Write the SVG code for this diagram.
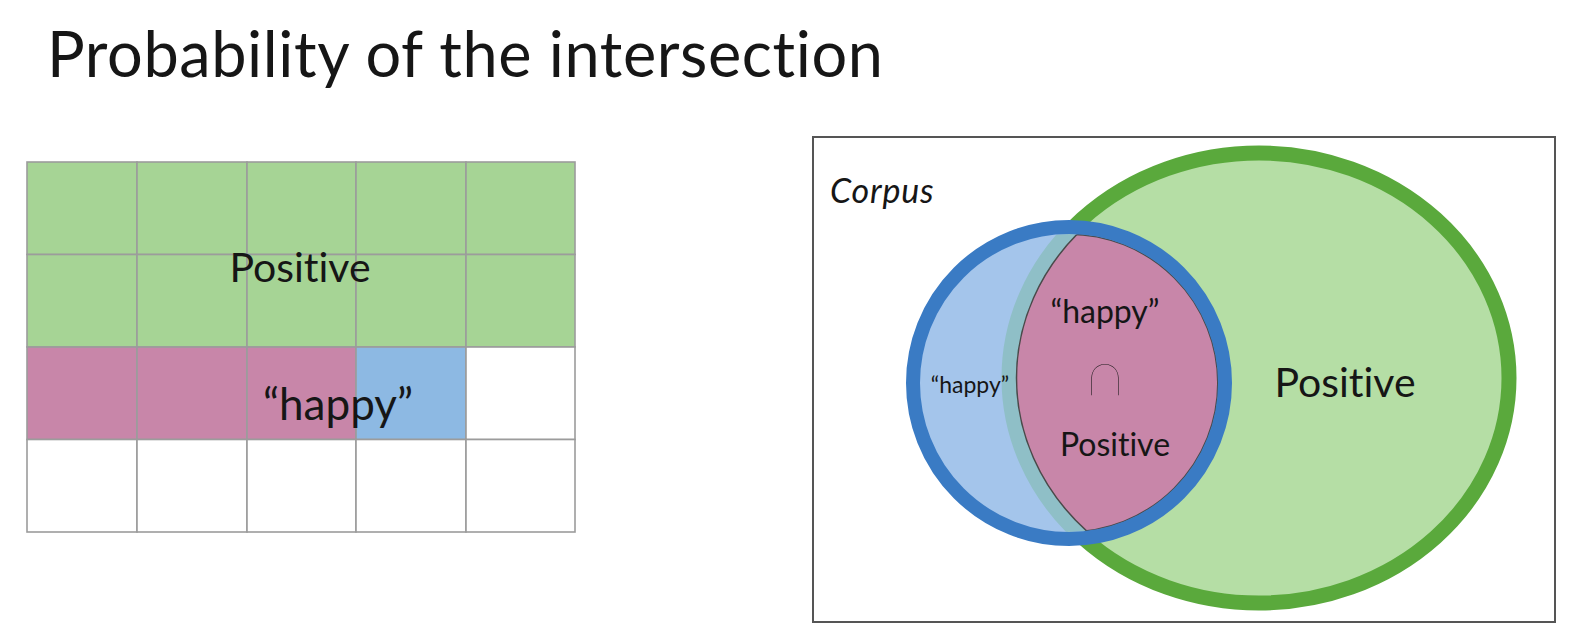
<svg xmlns="http://www.w3.org/2000/svg" width="1570" height="644" viewBox="0 0 1570 644">
  <style>
    text { font-family: Lato, "Liberation Sans", sans-serif; fill: #161616; font-variant-ligatures: none; }
    .cell { stroke: #9c9c9c; stroke-width: 1.6; }
    .pos { fill: #a6d495; }
    .hap { fill: #c886a9; }
    .only { fill: #8db9e3; }
    .empty { fill: #ffffff; }
  </style>
  <defs>
    <clipPath id="blueInner">
      <circle cx="1069" cy="383" r="149"/>
    </clipPath>
    <clipPath id="greenInner">
      <ellipse cx="1259" cy="378" rx="242.5" ry="217.5"/>
    </clipPath>
  </defs>

  <rect width="1570" height="644" fill="#ffffff"/>

  <text id="title" x="47" y="77" font-size="63" letter-spacing="0.6">Probability of the intersection</text>

  <!-- Grid of 20 cells: 10 positive, 3 positive with "happy", 1 "happy" only, 6 empty -->
  <g id="grid">
    <g id="row1">
      <rect class="cell pos" x="27" y="162" width="110" height="92.5"/>
      <rect class="cell pos" x="137" y="162" width="110" height="92.5"/>
      <rect class="cell pos" x="247" y="162" width="109" height="92.5"/>
      <rect class="cell pos" x="356" y="162" width="110" height="92.5"/>
      <rect class="cell pos" x="466" y="162" width="109" height="92.5"/>
    </g>
    <g id="row2">
      <rect class="cell pos" x="27" y="254.5" width="110" height="92.5"/>
      <rect class="cell pos" x="137" y="254.5" width="110" height="92.5"/>
      <rect class="cell pos" x="247" y="254.5" width="109" height="92.5"/>
      <rect class="cell pos" x="356" y="254.5" width="110" height="92.5"/>
      <rect class="cell pos" x="466" y="254.5" width="109" height="92.5"/>
    </g>
    <g id="row3">
      <rect class="cell hap" x="27" y="347" width="110" height="92.5"/>
      <rect class="cell hap" x="137" y="347" width="110" height="92.5"/>
      <rect class="cell hap" x="247" y="347" width="109" height="92.5"/>
      <rect class="cell only" x="356" y="347" width="110" height="92.5"/>
      <rect class="cell empty" x="466" y="347" width="109" height="92.5"/>
    </g>
    <g id="row4">
      <rect class="cell empty" x="27" y="439.5" width="110" height="92.5"/>
      <rect class="cell empty" x="137" y="439.5" width="110" height="92.5"/>
      <rect class="cell empty" x="247" y="439.5" width="109" height="92.5"/>
      <rect class="cell empty" x="356" y="439.5" width="110" height="92.5"/>
      <rect class="cell empty" x="466" y="439.5" width="109" height="92.5"/>
    </g>
    <text id="grid-positive" x="300" y="282" font-size="41" text-anchor="middle">Positive</text>
    <text id="grid-happy" x="338" y="420" font-size="44" text-anchor="middle">“happy”</text>
  </g>

  <!-- Venn diagram inside the corpus frame -->
  <g id="corpus">
    <rect x="813" y="137" width="742" height="485" fill="#ffffff" stroke="#555555" stroke-width="2"/>
    <text x="830" y="203" font-size="34" font-style="italic" letter-spacing="0.8">Corpus</text>
  </g>

  <g id="positive-set">
    <ellipse cx="1259" cy="378" rx="250" ry="225" fill="#b5dea5" stroke="#5aa93c" stroke-width="15"/>
  </g>

  <g id="happy-set">
    <circle cx="1069" cy="383" r="156" fill="#a4c5eb"/>
    <!-- positive outline seen through the translucent "happy" disc -->
    <ellipse cx="1259" cy="378" rx="250" ry="225" fill="none" stroke="#8fbfc7" stroke-width="15" clip-path="url(#blueInner)"/>
  </g>

  <g id="intersection">
    <ellipse cx="1259" cy="378" rx="242.5" ry="217.5" fill="#c886a9" stroke="#4a4a4a" stroke-width="1.5" clip-path="url(#blueInner)"/>
    <circle cx="1069" cy="383" r="148.8" fill="none" stroke="#4a4a4a" stroke-width="1.5" clip-path="url(#greenInner)"/>
  </g>

  <g id="happy-outline">
    <circle cx="1069" cy="383" r="156" fill="none" stroke="#3a7bc4" stroke-width="14"/>
  </g>

  <g id="venn-labels">
    <text x="970" y="393" font-size="23" text-anchor="middle">“happy”</text>
    <text x="1105" y="323" font-size="32" text-anchor="middle">“happy”</text>
    <text x="1105" y="395" font-size="58" font-family="DejaVu Sans, sans-serif" font-weight="200" text-anchor="middle" fill="#2a2a2a">∩</text>
    <text x="1115" y="456" font-size="32" text-anchor="middle">Positive</text>
    <text x="1345" y="397" font-size="41" text-anchor="middle">Positive</text>
  </g>
</svg>
